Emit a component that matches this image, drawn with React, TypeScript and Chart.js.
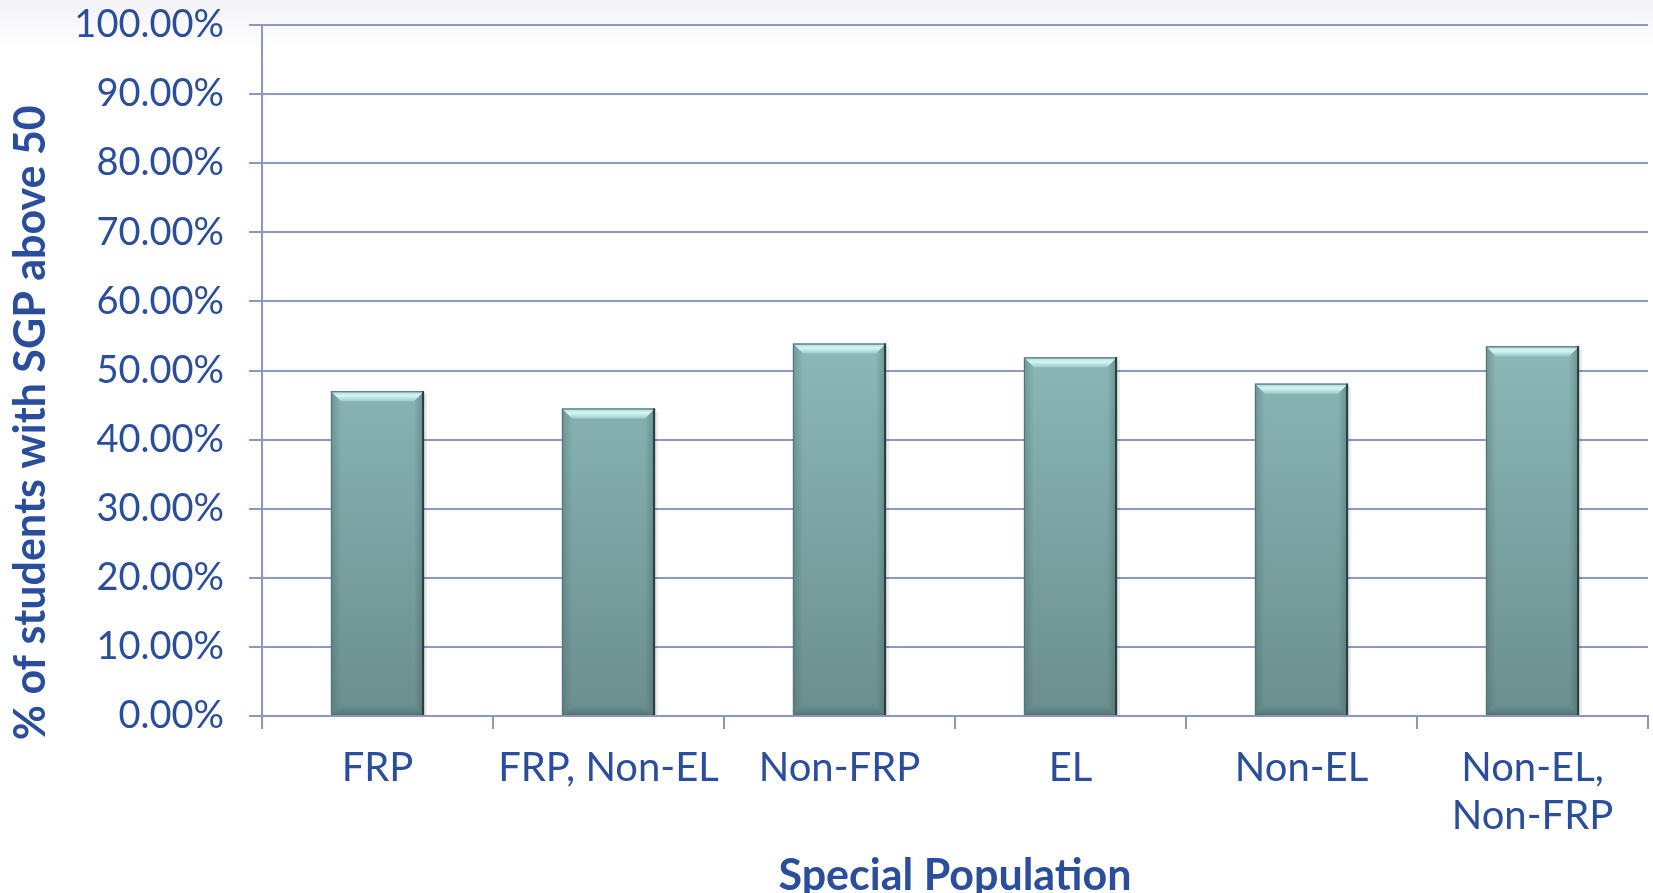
import React, { useEffect, useRef } from "react";
import { Chart, registerables } from "chart.js";

Chart.register(...registerables);

const categories: (string | string[])[] = ["FRP", "FRP, Non-EL", "Non-FRP", "EL", "Non-EL", ["Non-EL,", "Non-FRP"]];
const values: number[] = [0.47, 0.445, 0.539, 0.519, 0.481, 0.535];
const yTicks: number[] = [0, 0.1, 0.2, 0.3, 0.4, 0.5, 0.6, 0.7, 0.8, 0.9, 1.0];
const xTitle = "Special Population";
const yTitle = "% of students with SGP above 50";

const TEXT = "#2a4d9c";
const GRID = "#8e97c2";
const FONT = "Lato, 'DejaVu Sans', sans-serif";

const bgPlugin = {
  id: "bgGrad",
  beforeDraw(chart: any) {
    const { ctx, width, height } = chart;
    ctx.save();
    const g = ctx.createLinearGradient(0, 0, 0, 50);
    g.addColorStop(0, "#f3f3f8");
    g.addColorStop(1, "#ffffff");
    ctx.fillStyle = g;
    ctx.fillRect(0, 0, width, height);
    ctx.restore();
  },
};

const bevelPlugin = {
  id: "bevel",
  afterDatasetsDraw(chart: any) {
    const { ctx } = chart;
    const meta = chart.getDatasetMeta(0);
    meta.data.forEach((bar: any) => {
      const { x, y, base, width } = bar.getProps(["x", "y", "base", "width"], true);
      const x0 = x - width / 2;
      const x1 = x + width / 2;
      const b = 10;
      ctx.save();
      // soft shadow right
      ctx.fillStyle = "rgba(0,0,0,0.08)";
      ctx.fillRect(x1, y + 3, 3, base - y - 3);
      // top bevel
      const tg = ctx.createLinearGradient(0, y, 0, y + b);
      tg.addColorStop(0, "#a8d8d8");
      tg.addColorStop(0.45, "#d4f7f7");
      tg.addColorStop(1, "#9ccaca");
      ctx.fillStyle = tg;
      ctx.beginPath();
      ctx.moveTo(x0, y);
      ctx.lineTo(x1, y);
      ctx.lineTo(x1 - b, y + b);
      ctx.lineTo(x0 + b, y + b);
      ctx.closePath();
      ctx.fill();
      // left bevel
      const lg = ctx.createLinearGradient(x0, 0, x0 + b, 0);
      lg.addColorStop(0, "rgba(60,95,95,0.35)");
      lg.addColorStop(1, "rgba(60,95,95,0.0)");
      ctx.fillStyle = lg;
      ctx.beginPath();
      ctx.moveTo(x0, y);
      ctx.lineTo(x0 + b, y + b);
      ctx.lineTo(x0 + b, base - b);
      ctx.lineTo(x0, base);
      ctx.closePath();
      ctx.fill();
      // right bevel
      const rg = ctx.createLinearGradient(x1 - b, 0, x1, 0);
      rg.addColorStop(0, "rgba(40,70,70,0.0)");
      rg.addColorStop(1, "rgba(40,70,70,0.35)");
      ctx.fillStyle = rg;
      ctx.beginPath();
      ctx.moveTo(x1, y);
      ctx.lineTo(x1 - b, y + b);
      ctx.lineTo(x1 - b, base - b);
      ctx.lineTo(x1, base);
      ctx.closePath();
      ctx.fill();
      // bottom bevel
      const bg = ctx.createLinearGradient(0, base - b, 0, base);
      bg.addColorStop(0, "rgba(40,70,70,0.0)");
      bg.addColorStop(1, "rgba(40,70,70,0.3)");
      ctx.fillStyle = bg;
      ctx.beginPath();
      ctx.moveTo(x0, base);
      ctx.lineTo(x0 + b, base - b);
      ctx.lineTo(x1 - b, base - b);
      ctx.lineTo(x1, base);
      ctx.closePath();
      ctx.fill();
      // outline edges
      ctx.lineWidth = 1.2;
      ctx.strokeStyle = "#557575";
      ctx.strokeRect(x0 + 0.5, y + 0.5, width - 1, base - y - 1);
      ctx.strokeStyle = "#2a3e3e";
      ctx.lineWidth = 2;
      ctx.beginPath();
      ctx.moveTo(x1 - 1, y);
      ctx.lineTo(x1 - 1, base);
      ctx.stroke();
      ctx.restore();
    });
  },
};

export default function App() {
  const ref = useRef<HTMLCanvasElement | null>(null);
  useEffect(() => {
    if (!ref.current) return;
    const chart = new Chart(ref.current, {
      type: "bar",
      data: {
        labels: categories,
        datasets: [
          {
            data: values,
            categoryPercentage: 1,
            barPercentage: 0.403,
            borderWidth: 0,
            backgroundColor: (c: any) => {
              const area = c.chart.chartArea;
              if (!area) return "#7fa8a8";
              const g = c.chart.ctx.createLinearGradient(0, area.top + 320, 0, area.bottom);
              g.addColorStop(0, "#8cb8b8");
              g.addColorStop(1, "#6b8e8e");
              return g;
            },
          },
        ],
      },
      options: {
        animation: false,
        responsive: false,
        maintainAspectRatio: false,
        layout: { padding: { top: 25, right: 5, bottom: 0, left: 0 } },
        plugins: { legend: { display: false }, tooltip: { enabled: false } },
        scales: {
          x: {
            grid: { display: true, drawOnChartArea: false, color: GRID, lineWidth: 2, tickLength: 13, offset: true },
            border: { color: GRID, width: 2 },
            ticks: { color: TEXT, font: { family: FONT, size: 40 }, padding: 15, maxRotation: 0, autoSkip: false },
            title: { display: true, text: xTitle, color: TEXT, font: { family: FONT, size: 43, weight: "bold" }, padding: { top: 0, bottom: -9 } },
            afterFit: (s: any) => { s.height = 177; },
          },
          y: {
            min: 0,
            max: 1,
            afterBuildTicks: (s: any) => { s.ticks = yTicks.map((v) => ({ value: v })); },
            grid: { color: GRID, lineWidth: 2, tickLength: 13 },
            border: { color: GRID, width: 2 },
            ticks: {
              color: TEXT,
              font: { family: FONT, size: 38 },
              padding: 25,
              callback: (v: any) => (Number(v) * 100).toFixed(2) + "%",
            },
            title: { display: true, text: yTitle + "          ", color: TEXT, font: { family: FONT, size: 43, weight: "bold" }, padding: { top: 5, bottom: 0 } },
            afterFit: (s: any) => { s.width = 262; s.paddingTop = 0; s.paddingBottom = 0; },
          },
        },
      },
      plugins: [bgPlugin, bevelPlugin],
    });
    return () => chart.destroy();
  }, []);
  return (
    <div style={{ position: "absolute", left: 0, top: 0, width: 1653, height: 893, background: "#fff" }}>
      <canvas ref={ref} width={1653} height={893} style={{ display: "block", width: 1653, height: 893 }} />
    </div>
  );
}
